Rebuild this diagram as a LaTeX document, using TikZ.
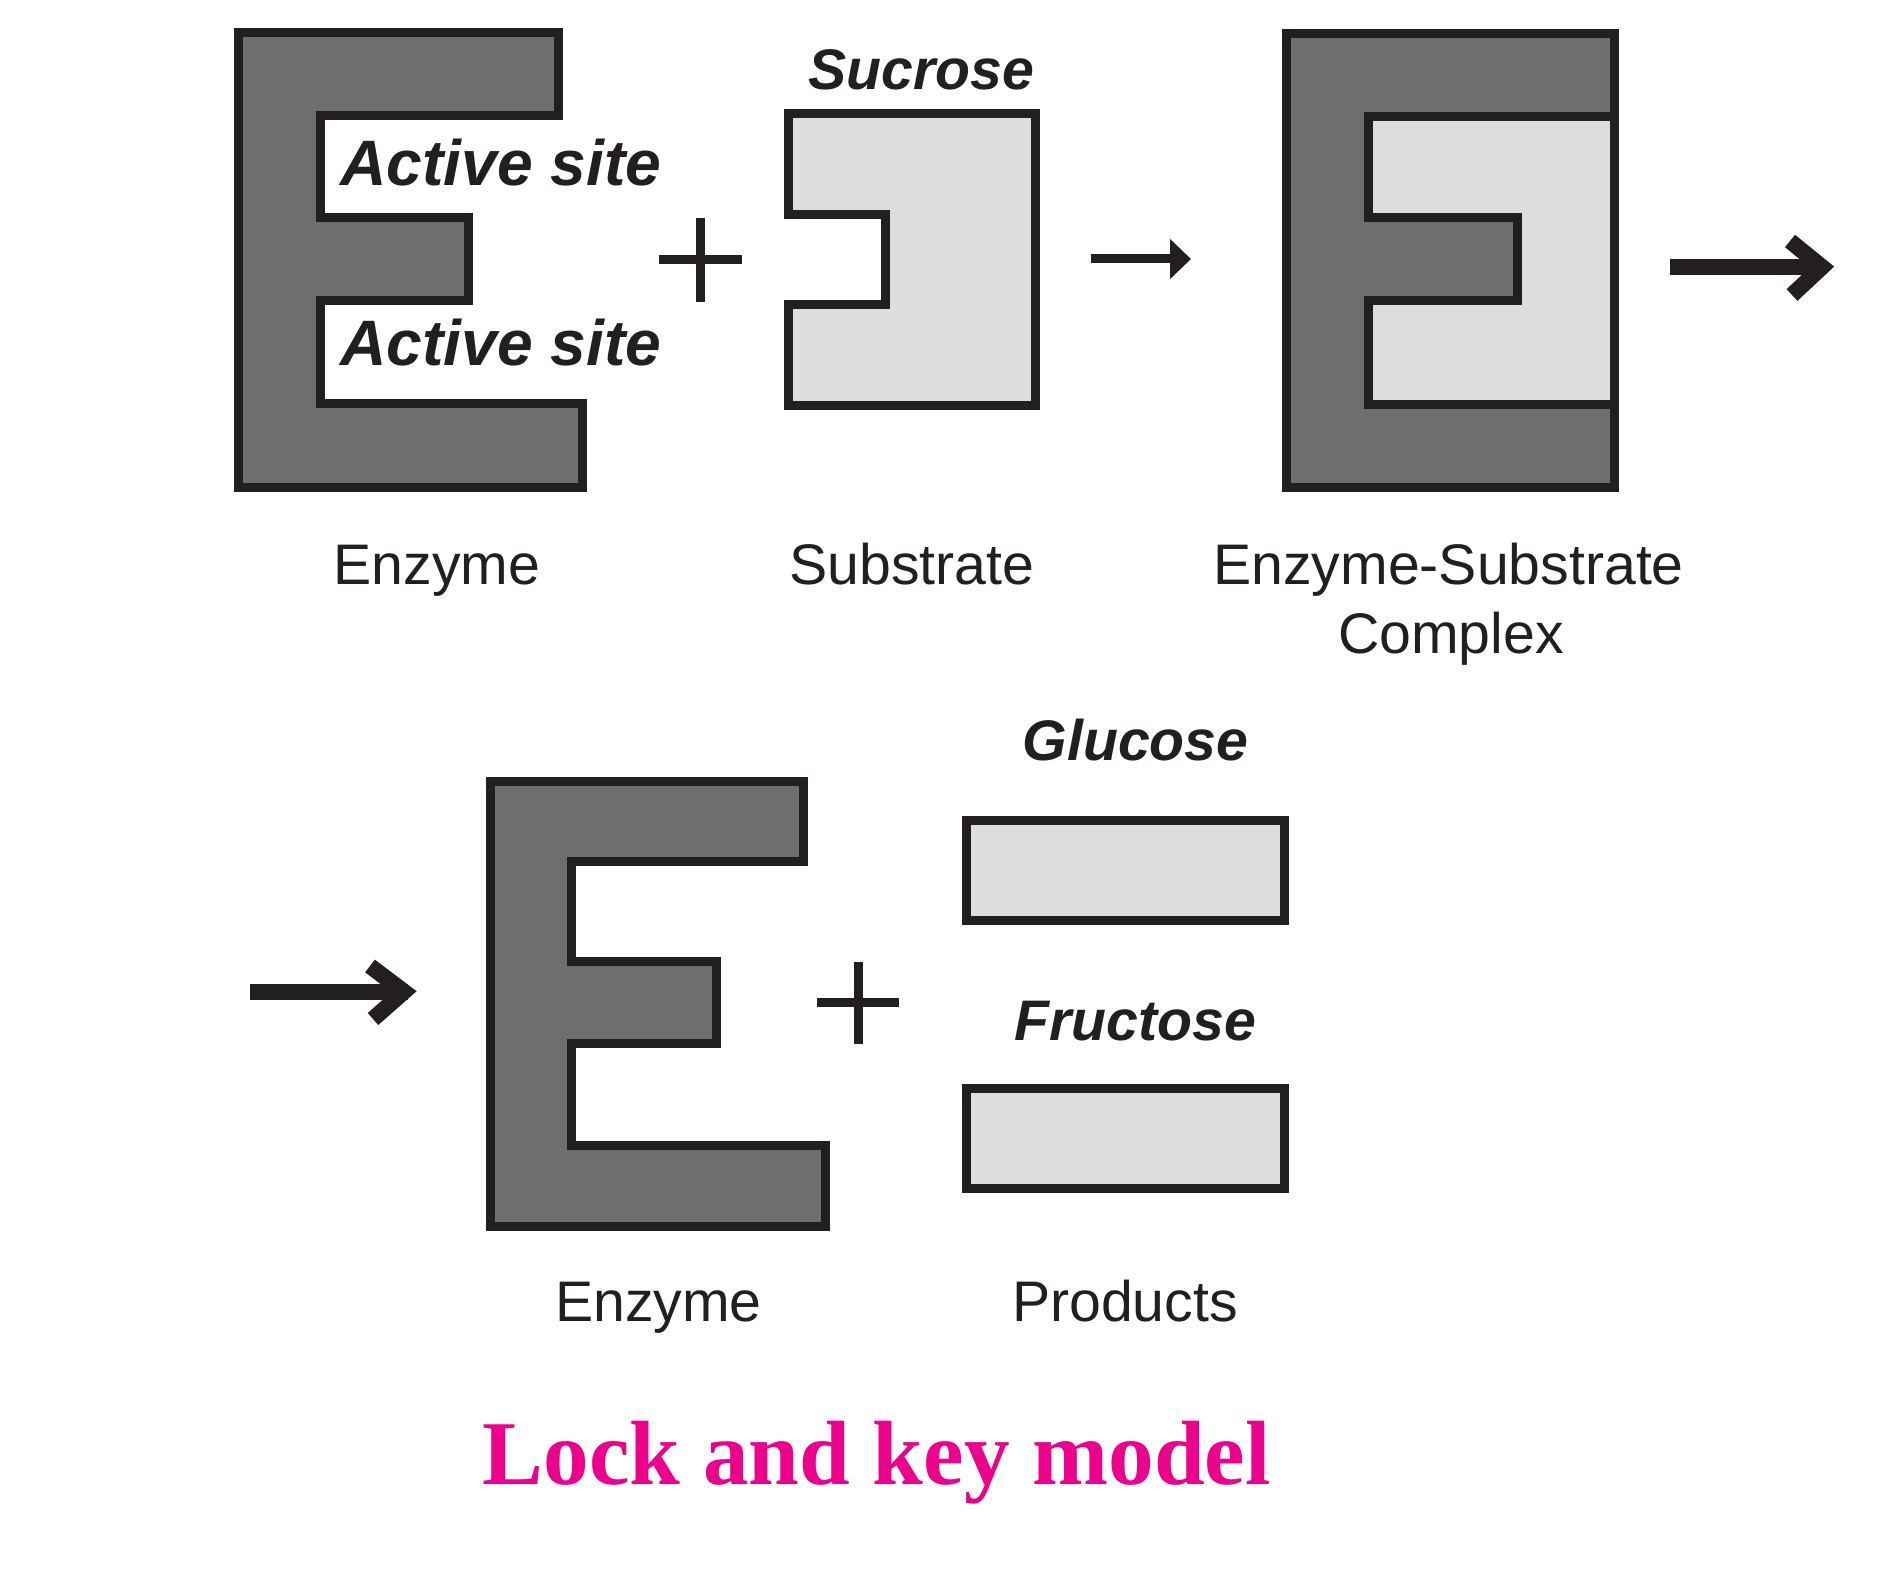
\documentclass[tikz,border=0pt]{standalone}
\usepackage{fontspec}
\usetikzlibrary{arrows.meta}
\newfontfamily\lsans{Liberation Sans}
\newfontfamily\lserif{Liberation Serif}
\definecolor{edark}{HTML}{6D6E70}
\definecolor{elight}{HTML}{DCDDDE}
\definecolor{ink}{HTML}{231F20}
\definecolor{titlepink}{HTML}{EC008C}
\tikzset{
  enzshape/.style={fill=edark, draw=ink, line width=4.5pt, line join=miter},
  subshape/.style={fill=elight, draw=ink, line width=4.5pt, line join=miter},
  plussign/.style={draw=ink, line width=4.5pt},
  thinarrow/.style={draw=ink, line width=4.5pt, -{Triangle[length=10.5pt,width=19.5pt]}},
  thickshaft/.style={draw=ink, line width=8pt},
  chevron/.style={draw=ink, line width=8pt, line join=miter, line cap=butt},
  italiclabel/.style={inner sep=0pt, anchor=base, text=ink, font=\lsans\bfseries\itshape\fontsize{28.6pt}{33pt}\selectfont},
  activelabel/.style={italiclabel, font=\lsans\bfseries\itshape\fontsize{32.1pt}{37pt}\selectfont},
  caption/.style={inner sep=0pt, anchor=base, text=ink, align=center, font=\lsans\fontsize{28.6pt}{34.5pt}\selectfont},
  titletext/.style={inner sep=0pt, anchor=base, text=titlepink, font=\lserif\bfseries\fontsize{45.6pt}{50pt}\selectfont}
}
\begin{document}
\begin{tikzpicture}[x=0.5pt, y=-0.5pt]
\useasboundingbox (0,0) rectangle (1901,1573);
\fill[white] (0,0) rectangle (1901,1573);

% Enzyme 1
\draw[enzshape] (238,33) -- (558,33) -- (558,116) -- (320,116) -- (320,218) -- (468,218) -- (468,301) -- (320,301) -- (320,403) -- (582,403) -- (582,487) -- (238,487) -- cycle;
\node[activelabel] (as1) at (501,186) {Active site};
\node[activelabel] (as2) at (501,365) {Active site};

% plus 1
\draw[plussign] (700.7,218) -- (700.7,302);
\draw[plussign] (658.5,259.3) -- (741.6,259.3);

% Substrate (sucrose)
\node[italiclabel] (sucrose) at (921.5,90) {Sucrose};
\draw[subshape] (788,114) -- (1035,114) -- (1035,405) -- (788,405) -- (788,305) -- (885,305) -- (885,215) -- (788,215) -- cycle;

% arrow 1
\coordinate (a1s) at (1091,259);
\coordinate (a1e) at (1191,259);
\draw[thinarrow] (a1s) -- (a1e);

% Enzyme-substrate complex
\draw[enzshape] (1286,34) rectangle (1614,487);
\draw[subshape] (1614,117) -- (1368,117) -- (1368,218) -- (1517,218) -- (1517,301) -- (1368,301) -- (1368,404) -- (1614,404) -- cycle;
\draw[draw=ink, line width=4.5pt, line join=miter] (1286,34) rectangle (1614,487);

% arrow 2
\coordinate (a2s) at (1670,267);
\coordinate (a2e) at (1824,267);
\coordinate (a2t) at (1790,241);
\coordinate (a2b) at (1792,295);
\draw[thickshaft] (a2s) -- (a2e);
\draw[chevron] (a2t) -- (1822,267) -- (a2b);

% captions row 1
\node[caption] (enz1) at (437,584) {Enzyme};
\node[caption] (sub) at (912,584) {Substrate};
\node[caption] (es1) at (1448.5,584) {Enzyme-Substrate};
\node[caption] (es2) at (1451,653) {Complex};

% arrow 3
\coordinate (a3s) at (250,991.7);
\coordinate (a3e) at (408,991.7);
\coordinate (a3t) at (370,966);
\coordinate (a3b) at (373,1019);
\draw[thickshaft] (a3s) -- (a3e);
\draw[chevron] (a3t) -- (404,991.7) -- (a3b);

% Enzyme 2
\draw[enzshape] (490,781) -- (803,781) -- (803,861) -- (571,861) -- (571,961) -- (716,961) -- (716,1043) -- (571,1043) -- (571,1145) -- (825,1145) -- (825,1226) -- (490,1226) -- cycle;

% plus 2
\draw[plussign] (858.4,962.4) -- (858.4,1043.8);
\draw[plussign] (817.3,1002.7) -- (899.4,1002.7);

% products
\node[italiclabel] (glucose) at (1135.5,760) {Glucose};
\draw[subshape] (966,820) rectangle (1284,920);
\node[italiclabel] (fructose) at (1135.5,1040) {Fructose};
\draw[subshape] (966,1088) rectangle (1284,1188);

% captions row 2
\node[caption] (enz2) at (658.5,1321.7) {Enzyme};
\node[caption] (prod) at (1125,1321.7) {Products};

% title
\node[titletext] (title) at (876.6,1484) {Lock and key model};
\end{tikzpicture}
\end{document}
